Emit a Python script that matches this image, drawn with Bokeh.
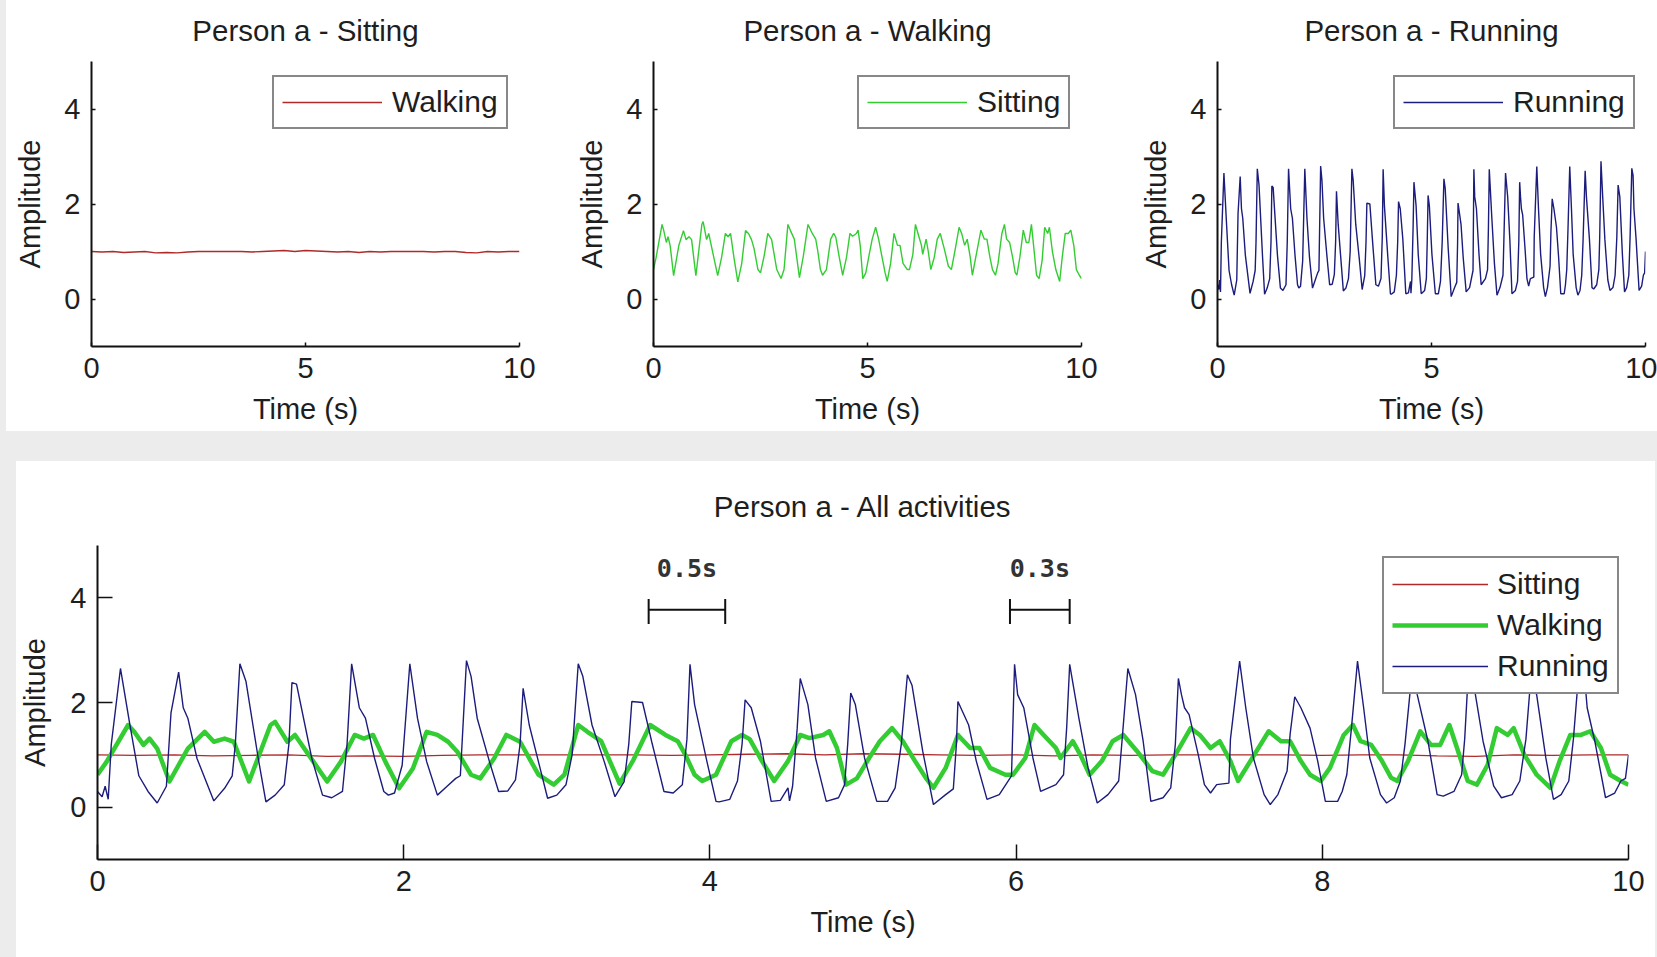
from bokeh.plotting import figure
from bokeh.models import Legend, LegendItem, Range1d, FixedTicker, Spacer
from bokeh.layouts import row, column
from bokeh.embed import file_html
from bokeh.resources import INLINE
from bokeh.core.properties import value

# ---------------- data ----------------
sit_t = [0.0, 0.25, 0.5, 0.75, 1.0, 1.25, 1.5, 1.75, 2.0, 2.25, 2.5, 2.75, 3.0, 3.25,
         3.5, 3.75, 4.0, 4.25, 4.5, 4.75, 5.0, 5.25, 5.5, 5.75, 6.0, 6.25, 6.5, 6.75,
         7.0, 7.25, 7.5, 7.75, 8.0, 8.25, 8.5, 8.75, 9.0, 9.25, 9.5, 9.75, 10.0]
sit_v = [1.00, 0.99, 1.00, 0.98, 0.99, 1.00, 0.97, 0.98, 0.97, 0.99, 1.00, 1.00, 1.00, 1.00,
         1.00, 0.99, 1.00, 1.01, 1.02, 1.00, 1.02, 1.01, 1.00, 0.99, 1.00, 0.98, 1.00, 0.99,
         1.00, 1.00, 1.00, 1.00, 0.99, 1.00, 1.00, 0.98, 0.97, 1.00, 0.99, 1.00, 1.00]

walk_t = [0.00, 0.06, 0.20, 0.24, 0.30, 0.34, 0.39, 0.47, 0.59, 0.70, 0.76, 0.83, 0.89, 0.99,
          1.13, 1.16, 1.24, 1.29, 1.41, 1.50, 1.59, 1.68, 1.74, 1.80, 1.88, 1.97, 2.06, 2.15,
          2.22, 2.29, 2.35, 2.44, 2.50, 2.59, 2.67, 2.76, 2.88, 2.98, 3.05, 3.14, 3.20, 3.29,
          3.41, 3.50, 3.61, 3.71, 3.79, 3.84, 3.90, 3.95, 4.04, 4.14, 4.21, 4.26, 4.34, 4.42,
          4.51, 4.59, 4.65, 4.74, 4.78, 4.83, 4.89, 4.96, 5.04, 5.11, 5.19, 5.26, 5.34, 5.41,
          5.46, 5.54, 5.62, 5.70, 5.76, 5.83, 5.93, 5.98, 6.06, 6.12, 6.18, 6.26, 6.29, 6.37,
          6.42, 6.48, 6.56, 6.63, 6.70, 6.79, 6.89, 6.96, 7.04, 7.14, 7.20, 7.27, 7.33, 7.40,
          7.45, 7.53, 7.65, 7.73, 7.79, 7.86, 7.92, 7.99, 8.05, 8.14, 8.20, 8.25, 8.32, 8.39,
          8.45, 8.49, 8.56, 8.64, 8.71, 8.77, 8.83, 8.88, 8.95, 9.01, 9.08, 9.14, 9.21, 9.25,
          9.32, 9.40, 9.49, 9.55, 9.62, 9.69, 9.75, 9.82, 9.88, 9.95, 10.00]
walk_v = [0.62, 0.87, 1.57, 1.44, 1.19, 1.31, 1.12, 0.49, 1.12, 1.44, 1.25, 1.31, 1.25, 0.49,
          1.57, 1.63, 1.25, 1.38, 0.87, 0.49, 0.87, 1.38, 1.31, 1.38, 0.87, 0.36, 0.74, 1.44,
          1.38, 1.25, 1.06, 0.62, 0.55, 0.93, 1.38, 1.25, 0.62, 0.43, 0.62, 1.57, 1.44, 1.26,
          0.45, 0.90, 1.57, 1.38, 1.26, 1.00, 0.62, 0.50, 0.62, 1.26, 1.38, 1.30, 0.88, 0.50,
          0.88, 1.38, 1.32, 1.38, 1.45, 1.13, 0.43, 0.55, 0.94, 1.26, 1.51, 1.26, 0.88, 0.56,
          0.37, 0.75, 1.38, 1.13, 1.13, 0.75, 0.62, 0.62, 0.94, 1.57, 1.38, 1.13, 0.94, 1.26,
          1.00, 0.62, 0.88, 1.26, 1.38, 1.07, 0.69, 0.62, 1.00, 1.51, 1.38, 1.13, 1.26, 0.88,
          0.50, 0.88, 1.45, 1.26, 1.26, 0.88, 0.62, 0.50, 0.75, 1.38, 1.57, 1.26, 1.19, 0.88,
          0.56, 0.50, 0.88, 1.45, 1.19, 1.19, 1.57, 1.13, 0.50, 0.43, 0.81, 1.51, 1.38, 1.51,
          1.00, 0.62, 0.37, 0.88, 1.38, 1.38, 1.45, 1.13, 0.62, 0.50, 0.43]

run_t = [0.00, 0.03, 0.05, 0.07, 0.09, 0.15, 0.21, 0.27, 0.33, 0.39, 0.45, 0.48, 0.53, 0.56,
         0.59, 0.65, 0.76, 0.83, 0.88, 0.90, 0.93, 0.97, 1.05, 1.10, 1.16, 1.22, 1.25, 1.27,
         1.30, 1.40, 1.47, 1.53, 1.60, 1.63, 1.66, 1.71, 1.75, 1.81, 1.87, 1.90, 1.94, 1.99,
         2.04, 2.09, 2.15, 2.22, 2.28, 2.34, 2.37, 2.41, 2.44, 2.48, 2.56, 2.62, 2.68, 2.73,
         2.76, 2.78, 2.82, 2.88, 2.94, 3.00, 3.06, 3.10, 3.14, 3.17, 3.23, 3.31, 3.38, 3.44,
         3.47, 3.49, 3.56, 3.62, 3.70, 3.76, 3.82, 3.85, 3.87, 3.90, 3.98, 4.04, 4.06, 4.13,
         4.18, 4.21, 4.23, 4.27, 4.33, 4.40, 4.46, 4.51, 4.52, 4.54, 4.57, 4.59, 4.64, 4.69,
         4.76, 4.84, 4.88, 4.90, 4.92, 4.95, 5.01, 5.09, 5.16, 5.21, 5.25, 5.29, 5.32, 5.39,
         5.46, 5.54, 5.59, 5.61, 5.62, 5.69, 5.74, 5.81, 5.89, 5.97, 5.99, 6.01, 6.05, 6.11,
         6.16, 6.26, 6.31, 6.33, 6.35, 6.41, 6.47, 6.53, 6.60, 6.67, 6.69, 6.73, 6.78, 6.83,
         6.88, 6.96, 7.01, 7.04, 7.06, 7.08, 7.10, 7.13, 7.19, 7.23, 7.27, 7.31, 7.39, 7.40,
         7.46, 7.50, 7.55, 7.62, 7.66, 7.71, 7.77, 7.79, 7.82, 7.86, 7.92, 7.97, 8.02, 8.10,
         8.13, 8.16, 8.19, 8.23, 8.27, 8.31, 8.38, 8.42, 8.47, 8.51, 8.54, 8.59, 8.62, 8.69,
         8.75, 8.79, 8.86, 8.91, 8.93, 8.96, 9.00, 9.05, 9.12, 9.17, 9.24, 9.29, 9.33, 9.36,
         9.40, 9.46, 9.51, 9.56, 9.61, 9.64, 9.68, 9.71, 9.73, 9.78, 9.85, 9.91, 9.95, 9.98,
         10.00]
run_v = [0.30, 0.20, 0.40, 0.15, 1.20, 2.65, 1.60, 0.60, 0.30, 0.08, 0.40, 1.80, 2.58, 1.90,
         1.70, 0.93, 0.12, 0.36, 0.60, 1.20, 2.74, 2.40, 0.93, 0.10, 0.23, 0.43, 1.20, 2.38,
         2.35, 0.93, 0.23, 0.18, 0.30, 1.20, 2.74, 1.90, 1.70, 0.93, 0.30, 0.23, 0.27, 0.80,
         2.74, 1.70, 0.87, 0.23, 0.39, 0.55, 0.60, 2.80, 2.50, 1.70, 0.87, 0.30, 0.31, 0.52,
         1.20, 2.27, 1.57, 0.87, 0.17, 0.23, 0.43, 1.00, 2.74, 2.50, 1.57, 0.87, 0.20, 0.49,
         1.20, 2.02, 2.00, 1.25, 0.30, 0.27, 0.43, 1.30, 2.73, 1.96, 0.88, 0.11, 0.10, 0.15,
         0.50, 1.20, 2.05, 1.90, 1.26, 0.11, 0.13, 0.37, 0.12, 0.40, 1.50, 2.46, 1.96, 0.94,
         0.11, 0.18, 0.43, 1.20, 2.18, 1.96, 0.94, 0.11, 0.11, 0.37, 1.20, 2.53, 2.33, 1.07,
         0.05, 0.24, 0.35, 1.20, 2.02, 1.57, 0.88, 0.15, 0.24, 0.60, 2.73, 2.15, 1.90, 0.94,
         0.30, 0.43, 0.62, 1.50, 2.73, 1.70, 0.75, 0.08, 0.24, 0.50, 1.20, 2.65, 2.15, 1.26,
         0.11, 0.18, 0.37, 1.20, 2.46, 2.15, 1.90, 1.77, 1.00, 0.43, 0.27, 0.43, 0.46, 1.30,
         2.79, 1.90, 0.94, 0.24, 0.05, 0.24, 0.69, 1.40, 2.11, 1.90, 1.51, 0.88, 0.11, 0.11,
         0.30, 0.62, 1.50, 2.79, 1.90, 0.94, 0.24, 0.08, 0.18, 0.50, 1.20, 2.70, 2.15, 1.26,
         0.24, 0.21, 0.30, 0.62, 1.30, 2.90, 2.15, 1.26, 0.40, 0.18, 0.24, 0.50, 1.30, 2.40,
         2.15, 0.94, 0.15, 0.24, 0.50, 1.30, 2.75, 2.60, 1.90, 1.26, 0.18, 0.27, 0.50, 0.55,
         1.00]

x_ticks_top = [0, 5, 10]
x_ticks_bottom = [0, 2, 4, 6, 8, 10]
y_ticks = [0, 2, 4]

bracket_start = [3.60, 5.96]
bracket_end = [4.10, 6.35]
bracket_labels = ["0.5s", "0.3s"]

# ---------------- styling ----------------
FONT = "Liberation Sans"
TXT = "#1e1e1e"
BG = "#ececec"
RED = "#b02a2a"
GREEN = "#33cc33"
BLUE = "#1c1c7c"


def make_fig(title, fw, fh, bl, br, bt, bb, xticks, tick_in, title_standoff, ylab_standoff):
    p = figure(frame_width=fw, frame_height=fh,
               min_border_left=bl, min_border_right=br,
               min_border_top=bt, min_border_bottom=bb,
               x_range=Range1d(0, 10), y_range=Range1d(-1, 5),
               output_backend="svg", toolbar_location=None, title=title)
    p.title.align = "center"
    p.title.text_font = FONT
    p.title.text_font_size = "29.5px"
    p.title.text_font_style = "normal"
    p.title.text_color = TXT
    p.title.standoff = title_standoff
    p.grid.visible = False
    p.outline_line_color = None
    p.background_fill_color = "white"
    p.border_fill_color = "white"
    p.xaxis.ticker = FixedTicker(ticks=xticks)
    p.yaxis.ticker = FixedTicker(ticks=y_ticks)
    p.xaxis.axis_label = "Time (s)"
    p.yaxis.axis_label = "Amplitude"
    for ax in (p.xaxis[0], p.yaxis[0]):
        ax.axis_line_width = 2
        ax.axis_line_color = "#111111"
        ax.major_tick_line_color = "#111111"
        ax.major_tick_line_width = 1.5
        ax.major_tick_in = tick_in
        ax.major_tick_out = 0
        ax.minor_tick_line_color = None
        ax.major_label_text_font = FONT
        ax.major_label_text_font_size = "29px"
        ax.major_label_text_color = TXT
        ax.major_label_standoff = 11
        ax.axis_label_text_font = FONT
        ax.axis_label_text_font_size = "29px"
        ax.axis_label_text_font_style = "normal"
        ax.axis_label_text_color = TXT
    p.xaxis.axis_label_standoff = 12
    p.yaxis.axis_label_standoff = ylab_standoff
    return p


def style_legend(leg, glyph_w, pad, spacing, label_h, standoff):
    leg.border_line_color = "#111111"
    leg.border_line_width = 2
    leg.background_fill_color = "white"
    leg.background_fill_alpha = 1.0
    leg.label_text_font = FONT
    leg.label_text_font_size = "30px"
    leg.label_text_color = TXT
    leg.glyph_width = glyph_w
    leg.glyph_height = 20
    leg.padding = pad
    leg.spacing = spacing
    leg.label_height = label_h
    leg.label_standoff = standoff
    leg.margin = 0


top_specs = [
    ("Person a - Sitting", 85, 41, sit_t, sit_v, RED, "Walking", 181),
    ("Person a - Walking", 93, 49, walk_t, walk_v, GREEN, "Sitting", 204),
    ("Person a - Running", 87, 12, run_t, run_v, BLUE, "Running", 176),
]
top_figs = []
for title, bl, br, xs, ys, col, lab, lx in top_specs:
    p = make_fig(title, 428, 285, bl, br, 69, 85, x_ticks_top, 4, 30, 15)
    r = p.line(xs, ys, line_color=col, line_width=1.4)
    leg = Legend(items=[LegendItem(label=lab, renderers=[r])], location=(lx, 217))
    style_legend(leg, 100, 8, 0, 34, 10)
    p.add_layout(leg)
    top_figs.append(p)

pb = make_fig("Person a - All activities", 1531, 314, 81, 27, 84, 98,
              x_ticks_bottom, 15, 45, 16)
r_sit = pb.line(sit_t, sit_v, line_color=RED, line_width=1.4)
r_walk = pb.line(walk_t, walk_v, line_color=GREEN, line_width=4.5, line_join="round")
r_run = pb.line(run_t, run_v, line_color=BLUE, line_width=1.4)

# scale brackets
bracket_y = 3.77
tick_lo, tick_hi = 3.50, 3.98
pb.segment(x0=bracket_start, y0=[bracket_y] * 2, x1=bracket_end, y1=[bracket_y] * 2,
           line_color="#111111", line_width=2)
pb.segment(x0=bracket_start, y0=[tick_lo] * 2, x1=bracket_start, y1=[tick_hi] * 2,
           line_color="#111111", line_width=2)
pb.segment(x0=bracket_end, y0=[tick_lo] * 2, x1=bracket_end, y1=[tick_hi] * 2,
           line_color="#111111", line_width=2)
label_x = [(a + b) / 2 for a, b in zip(bracket_start, bracket_end)]
pb.text(x=label_x, y=[4.57] * 2, text=bracket_labels, text_font=value("DejaVu Sans Mono"),
        text_font_size="25px", text_font_style="bold", text_color="#333333",
        text_align="center", text_baseline="middle")

legb = Legend(items=[LegendItem(label="Sitting", renderers=[r_sit]),
                     LegendItem(label="Walking", renderers=[r_walk]),
                     LegendItem(label="Running", renderers=[r_run])],
              location=(1285, 165))
style_legend(legb, 96, 8, 5, 36, 9)
pb.add_layout(legb)

layout = column(
    row(Spacer(width=6), row(*top_figs, spacing=0, styles={"background-color": "white"})),
    Spacer(height=30),
    row(Spacer(width=16), row(pb, styles={"background-color": "white"})),
    spacing=0,
    styles={"background-color": BG, "position": "relative", "top": "-8px"},
)

open("out.html", "w").write(file_html(layout, INLINE))
